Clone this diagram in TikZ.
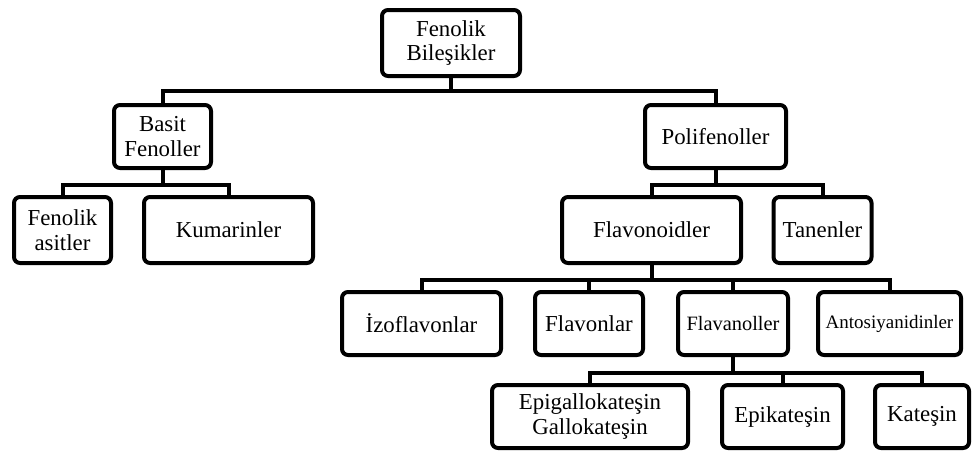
\documentclass[tikz,border=0pt]{standalone}
\usepackage{fontspec}
\setmainfont{Liberation Serif}
\usepackage{tikz}

\begin{document}
\begin{tikzpicture}[line width=0.08cm, every node/.style={font=\fontsize{13}{14}\selectfont}]
\tikzset{box/.style={draw,rounded corners=0.12cm,align=center,minimum height=1.26cm,inner sep=1pt}}
\tikzset{tall/.style={minimum height=1.32cm}}
\useasboundingbox (0,0) rectangle (19.46,-9.06);
\node[box,tall,minimum width=2.76cm] at (9.02,-0.86) (fb) {Fenolik\\Bile\c{s}ikler};
\node[box,minimum width=1.94cm] at (3.25,-2.73) (bf) {Basit\\Fenoller};
\draw (fb.south) -- ++(0,-0.26) -| (bf.north);
\node[box,minimum width=2.82cm] at (14.31,-2.73) (pf) {Polifenoller};
\draw (fb.south) -- ++(0,-0.26) -| (pf.north);
\node[box,tall,minimum width=1.94cm] at (1.25,-4.60) (fa) {Fenolik\\asitler};
\node[box,tall,minimum width=3.38cm] at (4.57,-4.60) (km) {Kumarinler};
\draw (bf.south) -- ++(0,-0.29) -| (fa.north);
\draw (bf.south) -- ++(0,-0.29) -| (km.north);
\node[box,tall,minimum width=3.58cm] at (13.03,-4.60) (fd) {Flavonoidler};
\node[box,tall,minimum width=1.96cm] at (16.45,-4.60) (tn) {Tanenler};
\draw (pf.south) -- ++(0,-0.29) -| (fd.north);
\draw (pf.south) -- ++(0,-0.29) -| (tn.north);
\node[box,minimum width=3.18cm] at (8.43,-6.47) (iz) {\.{I}zoflavonlar};
\node[box,minimum width=2.16cm] at (11.78,-6.47) (fv) {Flavonlar};
\node[box,minimum width=2.20cm,font=\fontsize{11.6}{12}\selectfont] at (14.66,-6.47) (fn) {Flavanoller};
\node[box,minimum width=2.86cm,font=\fontsize{10.8}{12}\selectfont] at (17.79,-6.47) (an) {Antosiyanidinler};
\draw (fd.south) -- ++(0,-0.30) -| (iz.north);
\draw (fd.south) -- ++(0,-0.30) -| (fv.north);
\draw (fd.south) -- ++(0,-0.30) -| (fn.north);
\draw (fd.south) -- ++(0,-0.30) -| (an.north);
\node[box,minimum width=3.92cm] at (11.80,-8.33) (eg) {Epigallokate\c{s}in\\Gallokate\c{s}in};
\node[box,minimum width=2.42cm] at (15.65,-8.33) (ek) {Epikate\c{s}in};
\node[box,minimum width=1.88cm] at (18.44,-8.33) (kt) {Kate\c{s}in};
\draw (fn.south) -- ++(0,-0.31) -| (eg.north);
\draw (fn.south) -- ++(0,-0.31) -| (ek.north);
\draw (fn.south) -- ++(0,-0.31) -| (kt.north);
\end{tikzpicture}
\end{document}
